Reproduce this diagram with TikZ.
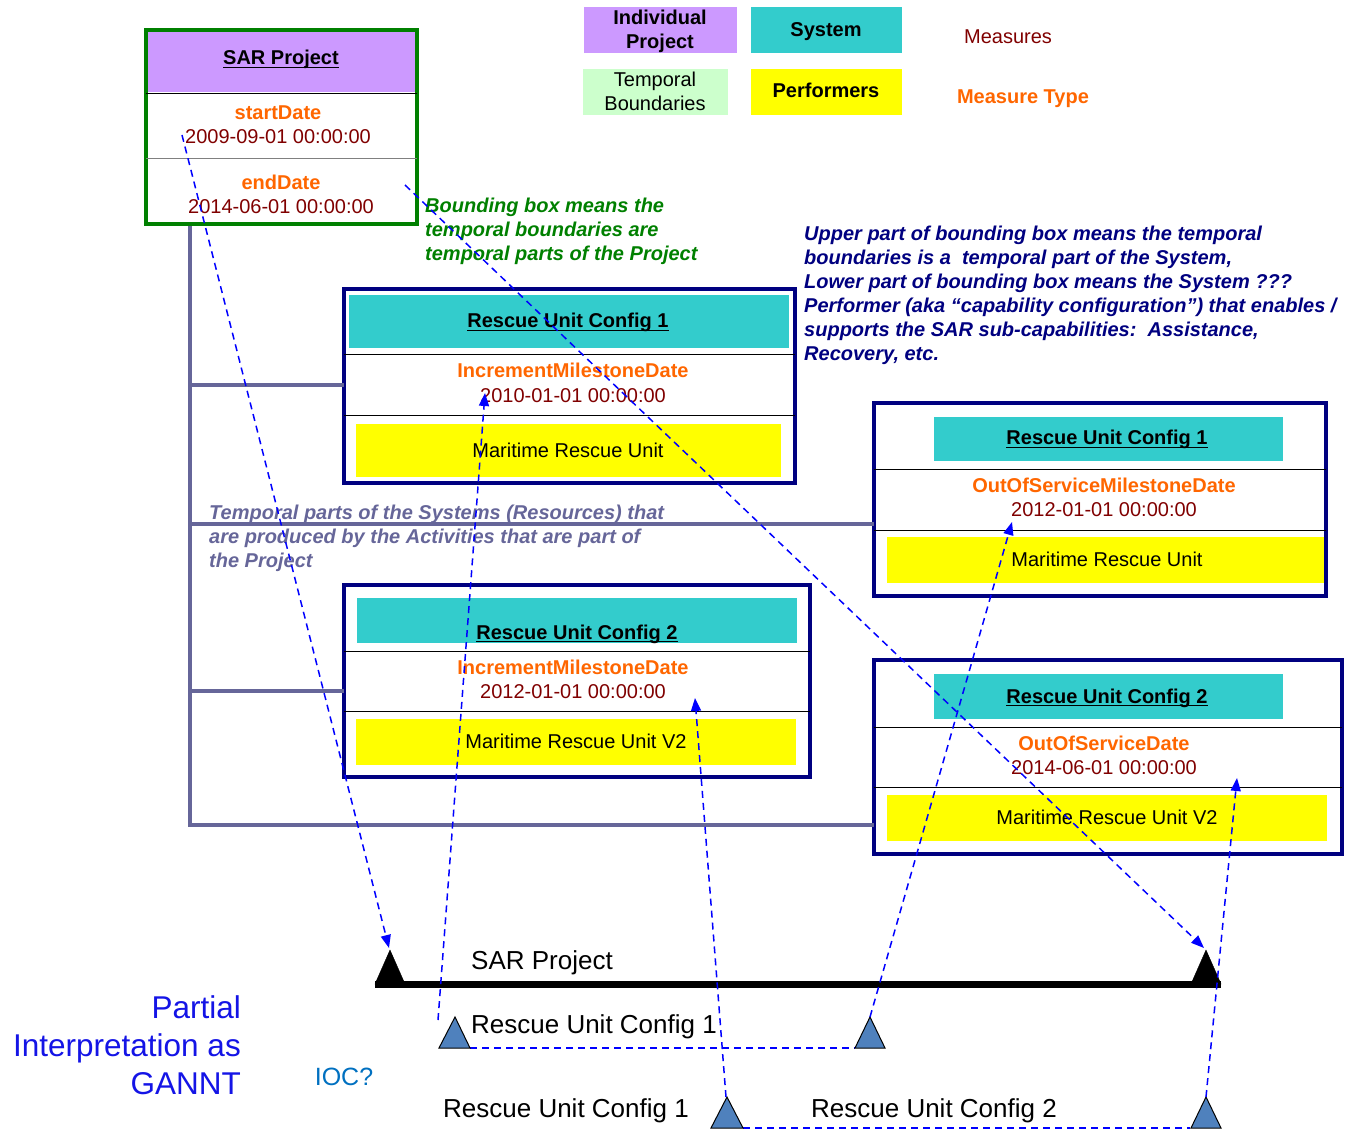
\documentclass[tikz,border=0pt]{standalone}
\usepackage{fontspec}
\setmainfont{Liberation Sans}
\usetikzlibrary{arrows.meta}
\definecolor{cPurple}{HTML}{CC99FF}
\definecolor{cCyan}{HTML}{33CCCC}
\definecolor{cLGreen}{HTML}{CCFFCC}
\definecolor{cYellow}{HTML}{FFFF00}
\definecolor{cOrange}{HTML}{FF6600}
\definecolor{cDRed}{HTML}{800000}
\definecolor{cGreen}{HTML}{008000}
\definecolor{cNavy}{HTML}{000080}
\definecolor{cGray}{HTML}{666699}
\definecolor{cGantt}{HTML}{4F81BD}
\definecolor{cPart}{HTML}{1414E6}
\definecolor{cIOC}{HTML}{0070C0}
\definecolor{cDash}{HTML}{0000FF}
\newcommand\myul[1]{\setbox0\hbox{#1}\rlap{\rule[-3pt]{\wd0}{1.4pt}}\box0}
\newcommand\mkbox[6]{\node[#2, anchor=north west, inner sep=0pt, outer sep=0pt,
  minimum width={(#5-#3)*1pt}, minimum height={(#6-#4)*1pt}] (#1) at (#3,#4) {};}
\tikzset{
  tl/.style={inner sep=0pt, outer sep=0pt, text height=14pt, text depth=0pt, anchor=center},
  hdr/.style={tl, font=\bfseries\fontsize{20}{24}\selectfont},
  mtype/.style={tl, text=cOrange, font=\bfseries\fontsize{20}{24}\selectfont},
  meas/.style={tl, text=cDRed, font=\fontsize{20}{24}\selectfont},
  perf/.style={tl, font=\fontsize{20}{24}\selectfont},
  multi/.style={inner sep=0pt, align=center, font=\fontsize{20}{24}\selectfont},
  note/.style={inner sep=0pt, anchor=north west, align=left, font=\bfseries\itshape\fontsize{20}{24}\selectfont},
  gtext/.style={inner sep=0pt, text height=18.6pt, text depth=0pt, font=\fontsize{26}{30}\selectfont},
  frame/.style={draw=cNavy, line width=4pt},
  sepline/.style={line width=1pt, black},
  spine/.style={draw=cGray, line width=4pt},
  link/.style={draw=cDash, line width=1.5pt, dash pattern=on 7pt off 5pt, -{Triangle[length=13pt,width=10pt,fill=cDash]}},
  gtri/.style={fill=cGantt, draw=black, line width=1pt},
  btri/.style={fill=black, draw=black}
}
\begin{document}
\begin{tikzpicture}[x=1pt,y=-1pt]
\useasboundingbox (0,0) rectangle (1347,1131);

% ---------- legend ----------
\mkbox{legIP}{fill=cPurple}{584}{7}{737}{53}
\mkbox{legSys}{fill=cCyan}{751}{7}{902}{53}
\mkbox{legTB}{fill=cLGreen}{583}{69}{728}{115}
\mkbox{legPerf}{fill=cYellow}{751}{69}{902}{115}
\node[multi, font=\bfseries\fontsize{20}{24}\selectfont] (tIP) at (660,31) {Individual\\Project};
\node[hdr] (tSys) at (826,30) {System};
\node[multi] (tTB) at (655,91) {Temporal\\Boundaries};
\node[hdr] (tPerf) at (826,91) {Performers};
\node[meas] (tMeas) at (1008,37) {Measures};
\node[mtype] (tMT) at (1023,97) {Measure Type};

% ---------- SAR project box ----------
\mkbox{sarHead}{fill=cPurple}{145}{29}{418}{92}
\mkbox{sar}{draw=cGreen, line width=4pt}{146}{30}{417}{224}
\draw[sepline] (146,94) -- (417,94);
\draw[line width=1pt, gray] (146,159) -- (417,159);
\node[hdr] (sarT) at (281,58) {\myul{SAR Project}};
\node[mtype] (sarSD) at (278,113) {startDate};
\node[meas] (sarSDv) at (278,137) {2009-09-01 00:00:00};
\node[mtype] (sarED) at (281,183) {endDate};
\node[meas] (sarEDv) at (281,207) {2014-06-01 00:00:00};

% ---------- spine ----------
\coordinate (spTop) at (190,226);
\coordinate (spBot) at (190,825);
\coordinate (j1) at (190,385);
\coordinate (j2) at (190,524);
\coordinate (j3) at (190,691);

% ---------- left config 1 ----------
\mkbox{L1c}{fill=cCyan}{349}{295}{789}{348}
\mkbox{L1y}{fill=cYellow}{356}{424}{781}{477}
\mkbox{L1}{frame}{344}{289}{795}{483}
\draw[sepline] (344,355) -- (795,355);
\draw[sepline] (344,416) -- (795,416);
\node[hdr] (L1t) at (568,321) {\myul{Rescue Unit Config 1}};
\node[mtype] (L1m) at (573,371) {IncrementMilestoneDate};
\node[meas] (L1v) at (573,396) {2010-01-01 00:00:00};
\node[perf] (L1p) at (568,450) {Maritime Rescue Unit};

% ---------- right config 1 ----------
\mkbox{R1c}{fill=cCyan}{934}{417}{1283}{461}
\mkbox{R1y}{fill=cYellow}{887}{537}{1328}{583}
\mkbox{R1}{frame}{874}{403}{1326}{596}
\draw[sepline] (874,469) -- (1326,469);
\draw[sepline] (874,530) -- (1326,530);
\node[hdr] (R1t) at (1107,438) {\myul{Rescue Unit Config 1}};
\node[mtype] (R1m) at (1104,485) {OutOfServiceMilestoneDate};
\node[meas] (R1v) at (1104,509) {2012-01-01 00:00:00};
\node[perf] (R1p) at (1107,559) {Maritime Rescue Unit};

% ---------- left config 2 ----------
\mkbox{L2c}{fill=cCyan}{357}{598}{797}{643}
\mkbox{L2y}{fill=cYellow}{356}{719}{796}{765}
\mkbox{L2}{frame}{344}{585}{810}{777}
\draw[sepline] (344,651) -- (810,651);
\draw[sepline] (344,711) -- (810,711);
\node[hdr] (L2t) at (577,632) {\myul{Rescue Unit Config 2}};
\node[mtype] (L2m) at (573,667) {IncrementMilestoneDate};
\node[meas] (L2v) at (573,691) {2012-01-01 00:00:00};
\node[perf] (L2p) at (576,741) {Maritime Rescue Unit V2};

% ---------- right config 2 ----------
\mkbox{R2c}{fill=cCyan}{934}{674}{1283}{719}
\mkbox{R2y}{fill=cYellow}{887}{795}{1327}{841}
\mkbox{R2}{frame}{874}{660}{1342}{854}
\draw[sepline] (874,727) -- (1342,727);
\draw[sepline] (874,787) -- (1342,787);
\node[hdr] (R2t) at (1107,696) {\myul{Rescue Unit Config 2}};
\node[mtype] (R2m) at (1104,743) {OutOfServiceDate};
\node[meas] (R2v) at (1104,767) {2014-06-01 00:00:00};
\node[perf] (R2p) at (1107,817) {Maritime Rescue Unit V2};

% ---------- spine connectors ----------
\draw[spine] (spTop) -- (spBot) -- (spBot -| R2.west);
\draw[spine] (j1) -- (j1 -| L1.west);
\draw[spine] (j2) -- (j2 -| R1.west);
\draw[spine] (j3) -- (j3 -| L2.west);

% ---------- notes ----------
\node[note, text=cGreen] (nGreen) at (425,198) {Bounding box means the\\temporal boundaries are\\temporal parts of the Project};
\node[note, text=cNavy] (nBlue) at (804,226) {Upper part of bounding box means the temporal\\boundaries is a\ \ temporal part of the System,\\Lower part of bounding box means the System ???\\Performer (aka “capability configuration”) that enables /\\supports the SAR sub-capabilities:\ \ Assistance,\\Recovery, etc.};
\node[note, text=cGray] (nGray) at (209,505) {Temporal parts of the Systems (Resources) that\\are produced by the Activities that are part of\\the Project};

% ---------- Gantt ----------
\coordinate (barL) at (375,984);
\coordinate (barR) at (1221,984);
\draw[line width=7pt] (barL) -- (barR);
\filldraw[btri] (375,984) -- (390,950) -- (405,984) -- cycle;
\filldraw[btri] (1191,984) -- (1206,950) -- (1221,984) -- cycle;
\coordinate (tP1) at (389,948);
\coordinate (tP2) at (1204,948);
\draw[cDash, line width=1.5pt, dash pattern=on 7pt off 5pt] (470,1048) -- (855,1048);
\draw[cDash, line width=1.5pt, dash pattern=on 7pt off 5pt] (743,1128) -- (1190,1128);
\filldraw[gtri] (439,1048) -- (455,1017) -- (470,1048) -- cycle;
\filldraw[gtri] (855,1048) -- (870,1017) -- (885,1048) -- cycle;
\filldraw[gtri] (711,1128) -- (727,1097) -- (743,1128) -- cycle;
\filldraw[gtri] (1191,1128) -- (1206,1097) -- (1221,1128) -- cycle;
\coordinate (tA1) at (438,1020);
\coordinate (tA2) at (870,1017);
\coordinate (tB1) at (726,1097);
\coordinate (tB2) at (1206,1097);
\node[gtext] (gSAR) at (542,960) {SAR Project};
\node[gtext] (gR1a) at (594,1024) {Rescue Unit Config 1};
\node[gtext] (gR1b) at (566,1108) {Rescue Unit Config 1};
\node[gtext] (gR2) at (934,1108) {Rescue Unit Config 2};
\node[inner sep=0pt, anchor=north east, align=right, text=cPart, font=\fontsize{31.5}{38}\selectfont] (partial) at (241,995) {Partial\\Interpretation as\\GANNT};
\node[inner sep=0pt, text height=18pt, text depth=0pt, text=cIOC, font=\fontsize{25}{30}\selectfont] (ioc) at (344,1076) {IOC?};

% ---------- dashed arrows ----------
\coordinate (s1) at (182,135);
\coordinate (s2) at (405,185);
\coordinate (e3) at (485,393);
\coordinate (e4) at (1012,522);
\coordinate (e5) at (695,698);
\coordinate (e6) at (1237,778);
\draw[link] (s1) -- (tP1);
\draw[link] (s2) -- (tP2);
\draw[link] (tA1) -- (e3);
\draw[link] (tA2) -- (e4);
\draw[link] (tB1) -- (e5);
\draw[link] (tB2) -- (e6);
\end{tikzpicture}
\end{document}
